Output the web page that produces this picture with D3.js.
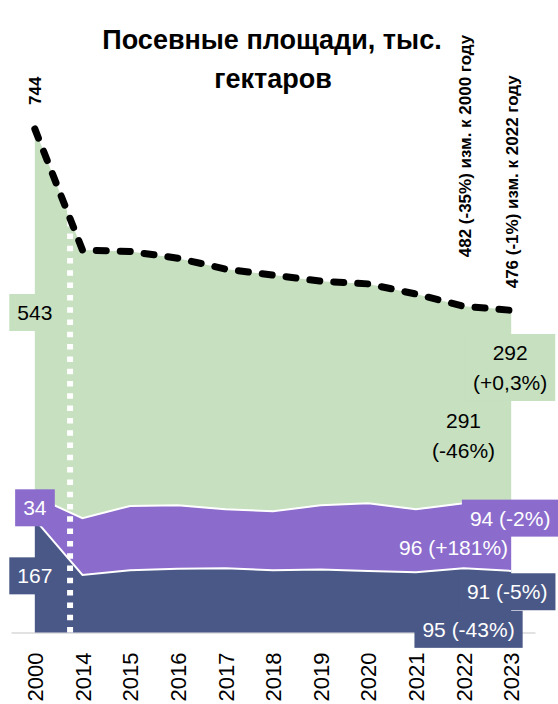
<!DOCTYPE html>
<html>
<head>
<meta charset="utf-8">
<script src="https://cdn.jsdelivr.net/npm/d3@7"></script>
<style>
  body { margin: 0; background: #fff; }
  svg { display: block; font-family: "Liberation Sans", Arial, sans-serif; }
</style>
</head>
<body>
<script>
// Data (тыс. га)
var years = ["2000", "2014", "2015", "2016", "2017", "2018", "2019", "2020", "2021", "2022", "2023"];
var blueVals = [167, 85, 92, 94, 95, 92, 93, 91, 89, 95, 91];
var purpleVals = [34, 84, 95, 94, 87, 87, 95, 100, 93, 96, 94];
var greenVals = [543, 396, 376, 365, 355, 349, 331, 324, 318, 291, 292];
var totalVals = [744, 565, 563, 553, 537, 528, 519, 515, 500, 482, 476];

var titleLines = ["Посевные площади, тыс.", "гектаров"];
var totalNotes = ["744", "482 (-35%) изм. к 2000 году", "476 (-1%) изм. к 2022 году"];

//Define SVG
var width = 558, height = 704;
var svg = d3.select("body")
    .append("svg")
    .attr("width", width)
    .attr("height", height);

var x = d3.scalePoint()
    .domain(years)
    .range([11, 535])
    .padding(0.5);

var y = d3.scaleLinear()
    .domain([0, 800])
    .range([632.5, 91]);

var colors = { blue: "#4a5887", purple: "#8b6ccc", green: "#c6e0c0" };

var rows = years.map(function (yr, i) {
    return { year: yr, blue: blueVals[i], purple: purpleVals[i], green: greenVals[i] };
});
var stacked = d3.stack().keys(["blue", "purple", "green"])(rows);

//x axis
var xAxis = svg.append("g")
    .attr("transform", "translate(0," + y(0) + ")")
    .call(d3.axisBottom(x).tickSize(0).tickSizeOuter(0));
xAxis.attr("font-family", null);
xAxis.select(".domain").attr("stroke", "#d9d9d9").attr("stroke-width", 1.5);
xAxis.selectAll("text")
    .attr("transform", "rotate(-90)")
    .attr("x", -20)
    .attr("y", 0)
    .attr("dy", "0.35em")
    .attr("font-size", 22)
    .attr("fill", "#000")
    .style("text-anchor", "end");

//areas
var area = d3.area()
    .x(function (d) { return x(d.data.year); })
    .y0(function (d) { return y(d[0]); })
    .y1(function (d) { return y(d[1]); });

svg.append("g")
    .selectAll("path")
    .data(stacked)
    .enter().append("path")
    .attr("fill", function (d) { return colors[d.key]; })
    .attr("d", area);

//white borders between layers
var topLine = d3.line()
    .x(function (d) { return x(d.data.year); })
    .y(function (d) { return y(d[1]); });

svg.append("g")
    .selectAll("path")
    .data(stacked.slice(0, 2))
    .enter().append("path")
    .attr("fill", "none")
    .attr("stroke", "#fff")
    .attr("stroke-width", 2)
    .attr("d", topLine);

//dotted break between 2000 and 2014
var sepX = x(years[0]) + 0.74 * (x(years[1]) - x(years[0]));
svg.append("line")
    .attr("x1", sepX).attr("x2", sepX)
    .attr("y1", y(0)).attr("y2", y(totalVals[0]))
    .attr("stroke", "#fff")
    .attr("stroke-width", 6)
    .attr("stroke-dasharray", "5.5 6.8");

//total dashed line
var totalLine = d3.line()
    .x(function (d, i) { return x(years[i]); })
    .y(function (d) { return y(d); });

svg.append("path")
    .datum(totalVals)
    .attr("fill", "none")
    .attr("stroke", "#000")
    .attr("stroke-width", 7)
    .attr("stroke-linecap", "round")
    .attr("stroke-dasharray", "10 14")
    .attr("d", totalLine);

//data labels
function addLabel(lines, cx, cy, color, boxFill) {
    var g = svg.append("g");
    var t = g.append("text")
        .attr("font-size", 21)
        .attr("fill", color)
        .attr("text-anchor", "middle");
    lines.forEach(function (s, i) {
        t.append("tspan")
            .attr("x", cx)
            .attr("y", cy + (i - (lines.length - 1) / 2) * 30)
            .attr("dy", "0.35em")
            .text(s);
    });
    if (boxFill) {
        var b = t.node().getBBox();
        g.insert("rect", "text")
            .attr("x", b.x - 8)
            .attr("y", b.y - 7)
            .attr("width", b.width + 16)
            .attr("height", b.height + 14)
            .attr("fill", boxFill);
    }
}

function mid(d) { return y((d[0] + d[1]) / 2); }

addLabel(["543"], x("2000"), mid(stacked[2][0]), "#000", colors.green);
addLabel(["34"], x("2000"), mid(stacked[1][0]), "#fff", colors.purple);
addLabel(["167"], x("2000"), mid(stacked[0][0]), "#fff", colors.blue);

var n = years.length - 1;
addLabel(["292", "(+0,3%)"], x("2023") - 1, y(stacked[2][n][1]) + 58, "#000", colors.green);
addLabel(["291", "(-46%)"], x("2022"), y(stacked[2][n - 1][0]) - 68, "#000", null);
addLabel(["94 (-2%)"], x("2023") - 1, y(stacked[1][n][1]) + 11, "#fff", colors.purple);
addLabel(["96 (+181%)"], x("2022") - 10, y(stacked[0][n - 1][1]) - 21, "#fff", null);
addLabel(["91 (-5%)"], x("2023") - 4, y(stacked[0][n][1]) + 21, "#fff", colors.blue);
addLabel(["95 (-43%)"], x("2022") + 5, y(0) - 3, "#fff", colors.blue);

//rotated total notes
function addNote(txt, cx, bottomY) {
    svg.append("text")
        .attr("transform", "translate(" + cx + "," + bottomY + ") rotate(-90)")
        .attr("dy", "0.35em")
        .attr("font-size", 17)
        .attr("font-weight", "bold")
        .attr("fill", "#000")
        .attr("text-anchor", "start")
        .text(txt);
}
addNote(totalNotes[0], x("2000"), y(totalVals[0]) - 24);
addNote(totalNotes[1], x("2022") + 2, y(totalVals[9]) - 49);
addNote(totalNotes[2], x("2023") + 1, y(totalVals[10]) - 22);

//title
var title = svg.append("text")
    .attr("font-size", 27)
    .attr("font-weight", "bold")
    .attr("text-anchor", "middle")
    .attr("fill", "#000");
title.append("tspan").attr("x", 272).attr("y", 49).text(titleLines[0]);
title.append("tspan").attr("x", 273).attr("y", 88).text(titleLines[1]);
</script>
</body>
</html>
